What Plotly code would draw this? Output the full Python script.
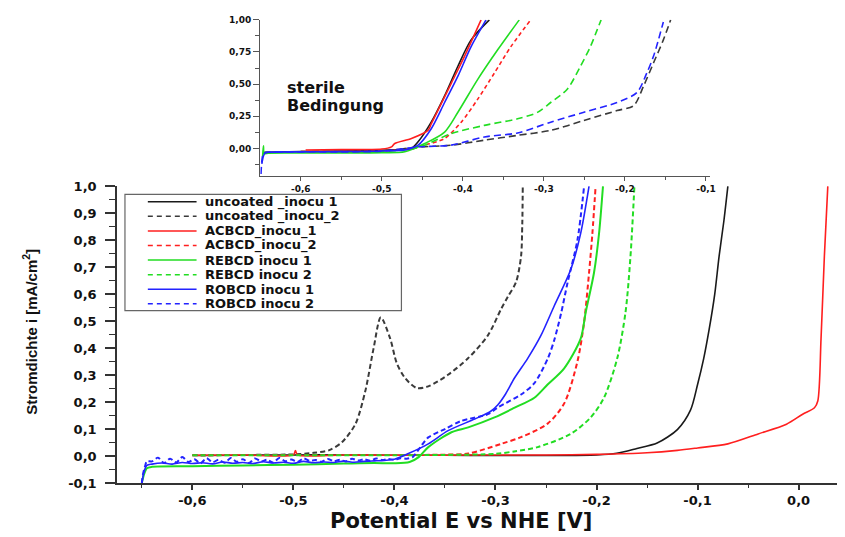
import plotly.graph_objects as go

# ---------------- data ----------------
series_names = ["uncoated _inocu 1", "uncoated _inocu_2", "ACBCD_inocu_1", "ACBCD_inocu_2",
                "REBCD inocu 1", "REBCD inocu 2", "ROBCD inocu 1", "ROBCD inocu 2"]

# main chart (inoculated)
unc1_x = [-0.595, -0.55, -0.5, -0.45, -0.4, -0.35, -0.3, -0.25, -0.2, -0.18, -0.16, -0.14, -0.12,
          -0.107, -0.1, -0.094, -0.0885, -0.083, -0.0787, -0.074, -0.07]
unc1_y = [0.002, 0.003, 0.004, 0.004, 0.003, 0.003, 0.002, 0.002, 0.004, 0.01, 0.028, 0.048, 0.098,
          0.17, 0.265, 0.36, 0.47, 0.6, 0.74, 0.87, 1.0]

unc2_x = [-0.6, -0.55, -0.5, -0.48, -0.465, -0.452, -0.4387, -0.4289, -0.4207, -0.4135, -0.4042,
          -0.3977, -0.3895, -0.378, -0.3665, -0.347, -0.3272, -0.3075, -0.2944, -0.2878, -0.2796,
          -0.2747, -0.2735, -0.273]
unc2_y = [0.003, 0.004, 0.006, 0.012, 0.021, 0.051, 0.118, 0.24, 0.398, 0.514, 0.435,
          0.344, 0.289, 0.252, 0.258, 0.301, 0.362, 0.447, 0.545, 0.59, 0.645,
          0.74, 0.86, 1.0]

ac1_x = [-0.595, -0.55, -0.5, -0.498, -0.496, -0.45, -0.4, -0.35, -0.3, -0.25, -0.2, -0.15, -0.12,
         -0.1, -0.07, -0.04, -0.012, 0.004, 0.0157, 0.019, 0.0222, 0.0255, 0.0289]
ac1_y = [0.003, 0.004, 0.004, 0.02, 0.004, 0.004, 0.003, 0.003, 0.004, 0.004, 0.006, 0.012, 0.021,
         0.03, 0.045, 0.082, 0.118, 0.155, 0.179, 0.204, 0.435, 0.74, 1.0]

ac2_x = [-0.6, -0.5, -0.4, -0.35, -0.327, -0.2944, -0.2747, -0.2484, -0.232, -0.2189, -0.2123,
         -0.2074, -0.2041, -0.2009]
ac2_y = [0.003, 0.004, 0.004, 0.005, 0.009, 0.045, 0.07, 0.12, 0.195, 0.35, 0.496,
         0.679, 0.825, 1.0]

re1_x = [-0.65, -0.648, -0.645, -0.64, -0.6, -0.55, -0.5, -0.45, -0.42, -0.4, -0.385, -0.376,
         -0.3665, -0.3436, -0.327, -0.301, -0.281, -0.2615, -0.2484, -0.232, -0.2157, -0.2107,
         -0.2025, -0.1975, -0.1936]
re1_y = [-0.1, -0.07, -0.045, -0.04, -0.038, -0.035, -0.032, -0.028, -0.026, -0.027, -0.022, -0.004,
         0.033, 0.088, 0.106, 0.143, 0.179, 0.216, 0.265, 0.325, 0.435, 0.533,
         0.679, 0.825, 1.0]

re2_x = [-0.6, -0.5, -0.4, -0.35, -0.3, -0.28, -0.2583, -0.2255, -0.2058, -0.1926, -0.1795,
         -0.1713, -0.1664, -0.1625]
re2_y = [0.003, 0.003, 0.003, 0.004, 0.008, 0.018, 0.033, 0.082, 0.143, 0.216, 0.362,
         0.533, 0.74, 1.0]

ro1_x = [-0.65, -0.648, -0.645, -0.64, -0.63, -0.62, -0.61, -0.6, -0.59, -0.58, -0.57, -0.56, -0.55,
         -0.54, -0.53, -0.52, -0.51, -0.5, -0.49, -0.48, -0.47, -0.46, -0.45, -0.44, -0.43, -0.42,
         -0.41, -0.4, -0.3862, -0.3665, -0.3469, -0.3206, -0.305, -0.2976, -0.29, -0.2812, -0.2681,
         -0.255, -0.2418, -0.2255, -0.2157, -0.2074]
ro1_y = [-0.1, -0.06, -0.035, -0.03, -0.026, -0.03, -0.024, -0.028, -0.025, -0.029, -0.022, -0.027,
         -0.024, -0.028, -0.021, -0.026, -0.023, -0.027, -0.02, -0.025, -0.022, -0.024, -0.019,
         -0.023, -0.02, -0.018, -0.016, -0.012, 0.009, 0.045, 0.094, 0.137, 0.165, 0.19, 0.23,
         0.289, 0.362, 0.447, 0.557, 0.691, 0.825, 1.0]

ro2_x = [-0.65, -0.649, -0.647, -0.645, -0.64, -0.634, -0.628, -0.622, -0.616, -0.61, -0.604,
         -0.598, -0.592, -0.586, -0.58, -0.574, -0.568, -0.562, -0.556, -0.55, -0.544, -0.538,
         -0.532, -0.526, -0.52, -0.514, -0.508, -0.502, -0.496, -0.49, -0.484, -0.478, -0.472,
         -0.466, -0.46, -0.454, -0.448, -0.442, -0.436, -0.43, -0.424, -0.418, -0.412, -0.406,
         -0.4, -0.394, -0.388, -0.382, -0.373, -0.3665, -0.35, -0.3338, -0.3075, -0.2976,
         -0.2747, -0.2615, -0.2484, -0.2418, -0.235, -0.2287, -0.2189, -0.2123]
ro2_y = [-0.1, -0.07, -0.04, -0.02, -0.02, -0.006, -0.026, -0.01, -0.024, -0.004, -0.022,
         -0.012, -0.027, -0.008, -0.023, -0.014, -0.025, -0.007, -0.021, -0.012, -0.026, -0.009,
         -0.02, -0.014, -0.024, -0.007, -0.019, -0.013, -0.022, -0.009, -0.018, -0.015, -0.021,
         -0.011, -0.019, -0.014, -0.02, -0.01, -0.017, -0.012, -0.018, -0.009, -0.015, -0.011,
         -0.014, -0.008, -0.01, -0.004, 0.04, 0.069, 0.1, 0.13, 0.155, 0.18,
         0.228, 0.27, 0.36, 0.43, 0.53, 0.642, 0.8, 1.0]

# inset chart (sterile conditions)
s_unc1_x = [-0.645, -0.6, -0.55, -0.5, -0.48, -0.4634, -0.4552, -0.439, -0.4225, -0.4061, -0.3898, -0.3673]
s_unc1_y = [-0.03, -0.025, -0.02, -0.015, -0.01, 0.0, 0.051, 0.204, 0.409, 0.639, 0.844, 1.0]

s_unc2_x = [-0.6, -0.5, -0.455, -0.414, -0.373, -0.334, -0.2916, -0.2506, -0.2098, -0.1893, -0.177,
            -0.1648, -0.1526, -0.1436]
s_unc2_y = [-0.025, -0.02, 0.01, 0.025, 0.064, 0.1, 0.14, 0.217, 0.294, 0.332, 0.485,
            0.664, 0.844, 1.0]

s_ac1_x = [-0.594, -0.55, -0.5, -0.488, -0.484, -0.4634, -0.443, -0.439, -0.428, -0.414, -0.398, -0.3775]
s_ac1_y = [-0.013, -0.01, -0.005, 0.012, 0.038, 0.077, 0.14, 0.19, 0.33, 0.51, 0.716, 1.0]

s_ac2_x = [-0.6, -0.5, -0.46, -0.447, -0.4225, -0.402, -0.3816, -0.361, -0.3407, -0.3162]
s_ac2_y = [-0.025, -0.02, 0.0, 0.025, 0.077, 0.204, 0.383, 0.587, 0.792, 1.0]

s_re1_x = [-0.647, -0.646, -0.645, -0.64, -0.6, -0.55, -0.5, -0.4716, -0.447, -0.4225, -0.4061,
           -0.3816, -0.357, -0.3304]
s_re1_y = [-0.06, 0.02, -0.04, -0.037, -0.036, -0.035, -0.033, -0.026, 0.038, 0.127, 0.281,
           0.537, 0.767, 1.0]

s_re2_x = [-0.6, -0.5, -0.46, -0.447, -0.4143, -0.3734, -0.3325, -0.308, -0.2916, -0.2712,
           -0.2549, -0.2426, -0.2344, -0.2294]
s_re2_y = [-0.03, -0.025, 0.0, 0.025, 0.115, 0.179, 0.23, 0.28, 0.357, 0.46,
           0.639, 0.792, 0.92, 1.0]

s_ro1_x = [-0.648, -0.646, -0.644, -0.64, -0.6, -0.55, -0.5, -0.47, -0.4552, -0.439, -0.4225,
           -0.4061, -0.3898, -0.3714]
s_ro1_y = [-0.12, -0.06, -0.035, -0.03, -0.027, -0.025, -0.02, -0.01, 0.025, 0.153, 0.357,
           0.562, 0.792, 1.0]

s_ro2_x = [-0.649, -0.648, -0.646, -0.64, -0.6, -0.5, -0.4552, -0.4143, -0.3734, -0.3325, -0.2916,
           -0.2506, -0.2098, -0.1853, -0.173, -0.1648, -0.1587, -0.1526]
s_ro2_y = [-0.2, -0.1, -0.04, -0.03, -0.027, -0.022, 0.012, 0.025, 0.089, 0.12, 0.204,
           0.281, 0.357, 0.434, 0.587, 0.716, 0.844, 0.984]

# tick labels
main_x_ticks = [-0.6, -0.5, -0.4, -0.3, -0.2, -0.1, 0.0]
main_x_labels = ["-0,6", "-0,5", "-0,4", "-0,3", "-0,2", "-0,1", "0,0"]
main_x_minor = [-0.65, -0.55, -0.45, -0.35, -0.25, -0.15, -0.05]
main_y_ticks = [-0.1, 0.0, 0.1, 0.2, 0.3, 0.4, 0.5, 0.6, 0.7, 0.8, 0.9, 1.0]
main_y_labels = ["-0,1", "0,0", "0,1", "0,2", "0,3", "0,4", "0,5", "0,6", "0,7", "0,8", "0,9", "1,0"]
main_y_minor = [-0.05, 0.05, 0.15, 0.25, 0.35, 0.45, 0.55, 0.65, 0.75, 0.85, 0.95]
ins_x_ticks = [-0.6, -0.5, -0.4, -0.3, -0.2, -0.1]
ins_x_labels = ["-0,6", "-0,5", "-0,4", "-0,3", "-0,2", "-0,1"]
ins_x_minor = [-0.55, -0.45, -0.35, -0.25, -0.15]
ins_y_ticks = [0.0, 0.25, 0.5, 0.75, 1.0]
ins_y_labels = ["0,00", "0,25", "0,50", "0,75", "1,00"]
ins_y_minor = [-0.125, 0.125, 0.375, 0.625, 0.875]

for a, b in [(unc1_x, unc1_y), (unc2_x, unc2_y), (ac1_x, ac1_y), (ac2_x, ac2_y), (re1_x, re1_y),
             (re2_x, re2_y), (ro1_x, ro1_y), (ro2_x, ro2_y), (s_unc1_x, s_unc1_y), (s_unc2_x, s_unc2_y),
             (s_ac1_x, s_ac1_y), (s_ac2_x, s_ac2_y), (s_re1_x, s_re1_y), (s_re2_x, s_re2_y),
             (s_ro1_x, s_ro1_y), (s_ro2_x, s_ro2_y)]:
    assert len(a) == len(b), (len(a), len(b))

# ---------------- styles ----------------
BLACK = "#1a1a1a"
DGRAY = "#3a3a3a"
RED = "#ff1f1f"
GREEN = "#22dd22"
BLUE = "#2323ff"
colors = [BLACK, DGRAY, RED, RED, GREEN, GREEN, BLUE, BLUE]
dashes = ["solid", "5px,3px", "solid", "5px,3px", "solid", "5px,3px", "solid", "5px,3px"]
widths = [1.6, 2.0, 1.6, 2.0, 2.0, 2.0, 1.6, 2.0]
inset_dashes = ["solid", "7px,4px", "solid", "4px,3px", "solid", "7px,4px", "solid", "7px,4px"]

TICKFONT = dict(family="DejaVu Sans, Arial, sans-serif", size=13, color="#111", weight="bold")
SMALLFONT = dict(family="DejaVu Sans, Arial, sans-serif", size=9, color="#111", weight="bold")

fig = go.Figure()

main_data = [(unc1_x, unc1_y), (unc2_x, unc2_y), (ac1_x, ac1_y), (ac2_x, ac2_y),
             (re1_x, re1_y), (re2_x, re2_y), (ro1_x, ro1_y), (ro2_x, ro2_y)]
inset_data = [(s_unc1_x, s_unc1_y), (s_unc2_x, s_unc2_y), (s_ac1_x, s_ac1_y), (s_ac2_x, s_ac2_y),
              (s_re1_x, s_re1_y), (s_re2_x, s_re2_y), (s_ro1_x, s_ro1_y), (s_ro2_x, s_ro2_y)]

for i, (xs, ys) in enumerate(inset_data):
    fig.add_trace(go.Scatter(x=xs, y=ys, mode="lines", name=series_names[i] + " (steril)",
                             xaxis="x2", yaxis="y2", showlegend=False,
                             line=dict(color=colors[i], width=1.6, dash=inset_dashes[i],
                                       shape="spline", smoothing=0.8)))

for i, (xs, ys) in enumerate(main_data):
    fig.add_trace(go.Scatter(x=xs, y=ys, mode="lines", name=series_names[i],
                             showlegend=False,
                             line=dict(color=colors[i], width=widths[i], dash=dashes[i],
                                       shape="spline", smoothing=0.8)))

# ---------------- layout geometry ----------------
# The page body adds an 8 px offset, so the figure is drawn 8 px smaller and all
# target positions below are given in screenshot pixels.
OFF = 8
W, H = 845 - OFF, 537 - OFF
ML, MR, MT, MB = 117 - OFF, 4, 10 - OFF, 54
PW, PH = W - ML - MR, H - MT - MB


def px_x(p):
    return (p - OFF - ML) / PW


def px_y(p):
    return (H - MB - (p - OFF)) / PH


fig.update_layout(
    width=W, height=H,
    margin=dict(l=ML, r=MR, t=MT, b=MB),
    paper_bgcolor="white", plot_bgcolor="white",
    showlegend=False,
    xaxis=dict(domain=[0, 1], range=[-0.6746, 0.038], anchor="y",
               showline=True, linecolor="#333", linewidth=1.5,
               ticks="outside", ticklen=5, tickwidth=1.5, tickcolor="#333",
               tickvals=main_x_ticks, ticktext=main_x_labels, tickfont=TICKFONT,
               minor=dict(tickvals=main_x_minor, ticks="outside", ticklen=3, tickwidth=1.2, tickcolor="#333"),
               showgrid=False, zeroline=False),
    yaxis=dict(domain=[0, px_y(181.7)], range=[-0.1, 1.0], anchor="x",
               showline=True, linecolor="#333", linewidth=1.5,
               ticks="outside", ticklen=10, tickwidth=1.5, tickcolor="#333",
               tickvals=main_y_ticks, ticktext=main_y_labels, tickfont=TICKFONT,
               ticklabelstandoff=6,
               minor=dict(tickvals=main_y_minor, ticks="outside", ticklen=6, tickwidth=1.2, tickcolor="#333"),
               showgrid=False, zeroline=False),
    xaxis2=dict(domain=[px_x(261), px_x(713.5)], range=[-0.650, -0.0948], anchor="y2",
                showline=True, linecolor="#555", linewidth=1.2,
                ticks="outside", ticklen=4, tickwidth=1, tickcolor="#555",
                tickvals=ins_x_ticks, ticktext=ins_x_labels, tickfont=SMALLFONT,
                minor=dict(tickvals=ins_x_minor, ticks="outside", ticklen=3, tickwidth=1, tickcolor="#555"),
                showgrid=False, zeroline=False),
    yaxis2=dict(domain=[px_y(171), px_y(12.9)], range=[-0.212, 1.0], anchor="x2",
                showline=True, linecolor="#555", linewidth=1.2,
                ticks="outside", ticklen=6, tickwidth=1, tickcolor="#555",
                tickvals=ins_y_ticks, ticktext=ins_y_labels, tickfont=SMALLFONT,
                minor=dict(tickvals=ins_y_minor, ticks="outside", ticklen=4, tickwidth=1, tickcolor="#555"),
                showgrid=False, zeroline=False),
)

annotations = []
shapes = []

# axis titles
annotations.append(dict(text="Potential E vs NHE [V]", xref="paper", yref="paper",
                        x=px_x(463), y=px_y(522), xanchor="center", yanchor="middle", showarrow=False,
                        font=dict(family="DejaVu Sans, Arial, sans-serif", size=21, color="#111", weight="bold")))
annotations.append(dict(text="Stromdichte i [mA/cm<sup>2</sup>]", xref="paper", yref="paper",
                        x=px_x(29), y=px_y(329), xanchor="center", yanchor="middle", showarrow=False,
                        textangle=-90,
                        font=dict(family="Liberation Sans, Arial, sans-serif",
                                  size=15, color="#111", weight="bold")))

# inset label
annotations.append(dict(text="sterile", xref="paper", yref="paper", x=px_x(286), y=px_y(82),
                        xanchor="left", yanchor="middle", showarrow=False,
                        font=dict(family="DejaVu Sans, Arial, sans-serif", size=16, color="#111", weight="bold")))
annotations.append(dict(text="Bedingung", xref="paper", yref="paper", x=px_x(286), y=px_y(100),
                        xanchor="left", yanchor="middle", showarrow=False,
                        font=dict(family="DejaVu Sans, Arial, sans-serif", size=16, color="#111", weight="bold")))

# legend (box, samples, labels)
shapes.append(dict(type="rect", xref="paper", yref="paper", x0=px_x(125), x1=px_x(403),
                   y0=px_y(308), y1=px_y(190), line=dict(color="#666", width=1.2), fillcolor="white"))
for i, name in enumerate(series_names):
    yy = px_y(197.5 + i * 14.8)
    shapes.append(dict(type="line", xref="paper", yref="paper", x0=px_x(148), x1=px_x(197),
                       y0=yy, y1=yy, line=dict(color=colors[i], width=1.5,
                                               dash="solid" if dashes[i] == "solid" else "5px,4px")))
    annotations.append(dict(text=name, xref="paper", yref="paper", x=px_x(203), y=yy,
                            xanchor="left", yanchor="middle", showarrow=False,
                            font=dict(family="DejaVu Sans, Arial, sans-serif", size=13, color="#111",
                                      weight="bold")))

fig.update_layout(annotations=annotations, shapes=shapes)

fig.write_html("out.html")
